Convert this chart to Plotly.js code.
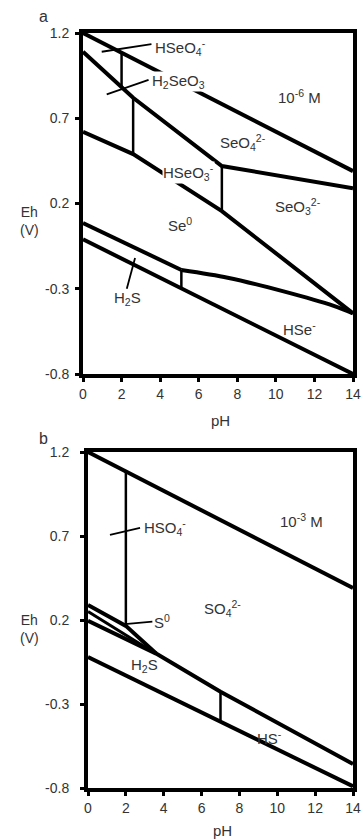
<!DOCTYPE html>
<html>
<head>
<meta charset="utf-8">
<script src="https://cdn.plot.ly/plotly-3.0.1.min.js"></script>
<style>html,body{margin:0;padding:0;background:#fff;}#chart{width:363px;height:840px;}</style>
</head>
<body>
<div id="chart"></div>
<script>
// ---------- Panel a: Se species, 10^-6 M ----------
const aWaterUpperPH = [0, 14];
const aWaterUpperEh = [1.2, 0.39];
const aHSeO4BoundPH = [2.0, 2.0];
const aHSeO4BoundEh = [1.084, 0.88];
const aSeleniteUpperPH = [0, 2.6, 7.2, 14];
const aSeleniteUpperEh = [1.09, 0.82, 0.42, 0.29];
const aH2SeO3BoundPH = [2.6, 2.6];
const aH2SeO3BoundEh = [0.82, 0.49];
const aSe0UpperPH = [0, 2.6, 7.2, 14];
const aSe0UpperEh = [0.62, 0.49, 0.155, -0.444];
const aHSeO3BoundPH = [7.2, 7.2];
const aHSeO3BoundEh = [0.42, 0.155];
const aSe0LowerLeftPH = [0, 5.1];
const aSe0LowerLeftEh = [0.086, -0.19];
const aSe0LowerRightPH = [5.1, 7.5, 10.4, 13, 14];
const aSe0LowerRightEh = [-0.19, -0.235, -0.315, -0.40, -0.444];
const aH2SeBoundPH = [5.1, 5.1];
const aH2SeBoundEh = [-0.19, -0.297];
const aWaterLowerPH = [0, 14];
const aWaterLowerEh = [-0.01, -0.80];

// ---------- Panel b: S species, 10^-3 M ----------
const bWaterUpperPH = [0, 14];
const bWaterUpperEh = [1.2, 0.39];
const bHSO4BoundPH = [2.0, 2.0];
const bHSO4BoundEh = [1.084, 0.165];
const bS0UpperPH = [0, 2.0, 3.6];
const bS0UpperEh = [0.29, 0.165, 0.0];
const bS0MidPH = [0, 3.5];
const bS0MidEh = [0.25, 0.005];
const bSulfideUpperPH = [0, 3.6, 7.0, 14];
const bSulfideUpperEh = [0.195, 0.0, -0.227, -0.657];
const bH2SBoundPH = [7.0, 7.0];
const bH2SBoundEh = [-0.227, -0.405];
const bWaterLowerPH = [0, 14];
const bWaterLowerEh = [-0.02, -0.79];

// ---------- Axes ----------
const phTicks = [0, 2, 4, 6, 8, 10, 12, 14];
const phTickText = ['0', '2', '4', '6', '8', '10', '12', '14'];
const ehTicks = [1.2, 0.7, 0.2, -0.3, -0.8];
const ehTickText = ['1.2', '0.7', '0.2', '-0.3', '-0.8'];

// ---------- Labels ----------
const aLabels = ['HSeO<sub>4</sub><sup>-</sup>', 'H<sub>2</sub>SeO<sub>3</sub>', '10<sup>-6</sup> M',
  'SeO<sub>4</sub><sup>2-</sup>', 'HSeO<sub>3</sub><sup>-</sup>', 'SeO<sub>3</sub><sup>2-</sup>',
  'Se<sup>0</sup>', 'H<sub>2</sub>S', 'HSe<sup>-</sup>'];
const bLabels = ['HSO<sub>4</sub><sup>-</sup>', '10<sup>-3</sup> M', 'SO<sub>4</sub><sup>2-</sup>',
  'S<sup>0</sup>', 'H<sub>2</sub>S', 'HS<sup>-</sup>'];

const W = 363, H = 840;
const FONT = 'Liberation Sans, Arial, sans-serif';
const TXT = '#333';

function tr(x, y, ax, w, shape) {
  return {x: x, y: y, xaxis: ax[0], yaxis: ax[1], type: 'scatter', mode: 'lines',
    line: {color: '#000', width: w, shape: shape || 'linear', smoothing: 0.8},
    hoverinfo: 'skip', showlegend: false};
}
const A = ['x', 'y'], B = ['x2', 'y2'];
const data = [
  tr(aWaterUpperPH, aWaterUpperEh, A, 4),
  tr(aHSeO4BoundPH, aHSeO4BoundEh, A, 2.5),
  tr(aSeleniteUpperPH, aSeleniteUpperEh, A, 4),
  tr(aH2SeO3BoundPH, aH2SeO3BoundEh, A, 2.5),
  tr(aSe0UpperPH, aSe0UpperEh, A, 4),
  tr(aHSeO3BoundPH, aHSeO3BoundEh, A, 2.5),
  tr(aSe0LowerLeftPH, aSe0LowerLeftEh, A, 4),
  tr(aSe0LowerRightPH, aSe0LowerRightEh, A, 4, 'spline'),
  tr(aH2SeBoundPH, aH2SeBoundEh, A, 2.5),
  tr(aWaterLowerPH, aWaterLowerEh, A, 4),
  tr(bWaterUpperPH, bWaterUpperEh, B, 4),
  tr(bHSO4BoundPH, bHSO4BoundEh, B, 2.5),
  tr(bS0UpperPH, bS0UpperEh, B, 4),
  tr(bS0MidPH, bS0MidEh, B, 3),
  tr(bSulfideUpperPH, bSulfideUpperEh, B, 4),
  tr(bH2SBoundPH, bH2SBoundEh, B, 2.5),
  tr(bWaterLowerPH, bWaterLowerEh, B, 4)
];

function xax(domain, anchor) {
  return {domain: domain, anchor: anchor, range: [0, 14], tickvals: phTicks, ticktext: phTickText,
    ticks: 'outside', ticklen: 4, tickwidth: 3, tickcolor: '#000',
    showline: true, linewidth: 4, linecolor: '#000', mirror: true,
    showgrid: false, zeroline: false, fixedrange: true,
    tickfont: {family: FONT, size: 14, color: TXT}};
}
function yax(domain, anchor, standoff) {
  return {domain: domain, anchor: anchor, range: [-0.8, 1.2], tickvals: ehTicks, ticktext: ehTickText,
    ticks: 'outside', ticklen: 4, tickwidth: 3, tickcolor: '#000',
    showline: true, linewidth: 4, linecolor: '#000', mirror: true,
    showgrid: false, zeroline: false, fixedrange: true, ticklabelstandoff: standoff,
    tickfont: {family: FONT, size: 14, color: TXT}};
}

function paperAnn(text, px, py, size) {
  return {text: text, xref: 'paper', yref: 'paper', x: px / W, y: 1 - py / H,
    xanchor: 'center', yanchor: 'middle', showarrow: false,
    font: {family: FONT, size: size || 14, color: TXT}};
}
function dataAnn(text, ax, x, y, xanchor, bg) {
  return {text: text, xref: ax[0], yref: ax[1], x: x, y: y, xanchor: xanchor || 'center',
    yanchor: 'middle', showarrow: false, bgcolor: bg ? '#fff' : 'rgba(0,0,0,0)', borderpad: 0,
    font: {family: FONT, size: 15, color: TXT}};
}
function seg(ax, x0, y0, x1, y1, w) {
  return {type: 'line', xref: ax[0], yref: ax[1], x0: x0, y0: y0, x1: x1, y1: y1,
    line: {color: '#000', width: w || 1.8}};
}

const annotations = [
  paperAnn('a', 43, 16, 16),
  paperAnn('b', 43, 438, 16),
  paperAnn('Eh<br>(V)', 29, 221, 14),
  paperAnn('Eh<br>(V)', 29, 629, 14),
  paperAnn('pH', 220, 420, 15),
  paperAnn('pH', 222, 830, 15),
  dataAnn(aLabels[0], A, 3.68, 1.112, 'left', true),
  dataAnn(aLabels[1], A, 3.50, 0.913, 'left', true),
  dataAnn(aLabels[2], A, 11.25, 0.825),
  dataAnn(aLabels[3], A, 8.3, 0.56),
  dataAnn(aLabels[4], A, 5.45, 0.38, 'center', true),
  dataAnn(aLabels[5], A, 11.15, 0.18),
  dataAnn(aLabels[6], A, 5.03, 0.074),
  dataAnn(aLabels[7], A, 2.33, -0.36),
  dataAnn(aLabels[8], A, 11.25, -0.536),
  dataAnn(bLabels[0], B, 2.9, 0.748, 'left'),
  dataAnn(bLabels[1], B, 11.3, 0.795),
  dataAnn(bLabels[2], B, 7.13, 0.27),
  dataAnn(bLabels[3], B, 3.45, 0.19, 'left'),
  dataAnn(bLabels[4], B, 3.0, -0.07),
  dataAnn(bLabels[5], B, 9.6, -0.5)
];

const shapes = [
  seg(A, 0.97, 1.09, 3.55, 1.135),
  seg(A, 1.23, 0.84, 3.4, 0.925),
  seg(A, 2.7, -0.12, 2.27, -0.30),
  seg(B, 1.16, 0.706, 2.75, 0.748),
  seg(B, 1.95, 0.176, 3.4, 0.19)
];

const layout = {
  width: W, height: H, margin: {l: 0, r: 0, t: 0, b: 0},
  paper_bgcolor: '#fff', plot_bgcolor: '#fff', showlegend: false,
  xaxis: xax([83 / W, 353 / W], 'y'),
  yaxis: yax([1 - 374 / H, 1 - 33 / H], 'x', 3),
  xaxis2: xax([88 / W, 353 / W], 'y2'),
  yaxis2: yax([1 - 788 / H, 1 - 452 / H], 'x2', 8),
  annotations: annotations,
  shapes: shapes
};

Plotly.newPlot('chart', data, layout, {staticPlot: true, displayModeBar: false});
</script>
</body>
</html>
